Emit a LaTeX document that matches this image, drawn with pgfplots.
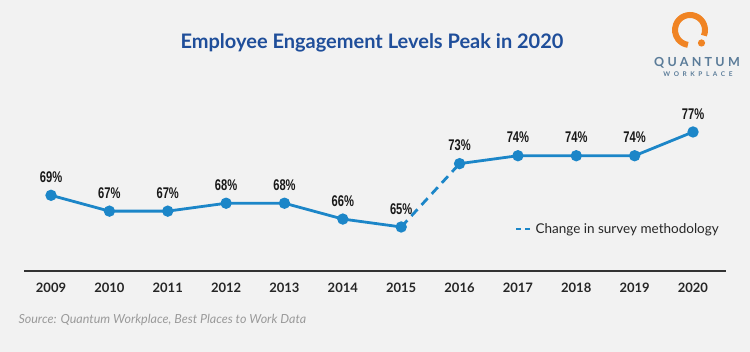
\documentclass[border=0pt]{standalone}
\usepackage{fontspec}
\setmainfont{Lato}
\newfontfamily\condfont[FakeStretch=0.72]{Liberation Sans Bold}
\newfontfamily\logofont[LetterSpace=26]{Lato Bold}
\newfontfamily\logosmall[LetterSpace=55]{Lato Bold}
\usepackage{pgfplots}
\pgfplotsset{compat=1.18}
\definecolor{bg}{HTML}{F2F2F2}
\definecolor{lineblue}{HTML}{1C86C8}
\definecolor{titleblue}{HTML}{1F4E9A}
\definecolor{logoorange}{HTML}{F08424}
\definecolor{logoslate}{HTML}{5B7C99}
\definecolor{srcgray}{HTML}{9A9A9A}
\begin{document}
\begin{tikzpicture}[x=1pt,y=1pt]
\fill[bg] (0,0) rectangle (750,352);
% title
\node[font=\fontsize{20}{23}\selectfont\bfseries, text=titleblue] at (372,309) {Employee Engagement Levels Peak in 2020};
% logo
\draw[logoorange, line width=6pt] (690,322) ++(-22:15) arc[start angle=-22, end angle=262, radius=15];
\fill[logoorange] (701.5,309) circle (3.6);
\node[font=\logofont\fontsize{12.5}{14}\selectfont, text=logoslate, inner sep=0pt] at (697,289.5) {QUANTUM};
\node[font=\logosmall\fontsize{6.5}{8}\selectfont, text=logoslate, inner sep=0pt] at (698,277.5) {WORKPLACE};
% source
\node[anchor=west, font=\fontsize{12.5}{14}\selectfont\itshape, text=srcgray] at (15,32) {Source: Quantum Workplace, Best Places to Work Data};
\begin{axis}[
  at={(24pt,81pt)}, anchor=south west,
  scale only axis, width=702pt, height=171pt,
  xmin=2008.537, xmax=2020.565,
  ymin=59.44, ymax=81.04,
  axis x line*=bottom, axis y line=none,
  x axis line style={draw=black!80, line width=1.3pt},
  xtick={2009,...,2020},
  major tick length=0pt,
  xticklabel style={/pgf/number format/1000 sep={}, /pgf/number format/assume math mode=true, font=\fontsize{13}{15}\selectfont\bfseries, text=black!85, yshift=-8pt},
  clip=false,
  ser/.style={color=lineblue, line width=2.8pt, mark=*, mark size=4.2pt, mark options={solid, fill=lineblue, draw=lineblue},
    nodes near coords={\pgfmathprintnumber[fixed,precision=0,assume math mode=true]{\pgfplotspointmeta}\%},
    every node near coord/.append style={font=\condfont\fontsize{15.5}{17}\selectfont, text=black!90, yshift=8pt}},
  legend style={at={(0.695,0.2456)}, anchor=west, draw=none, fill=none, font=\fontsize{13.5}{15}\selectfont, text=black!85, legend cell align=left},
  legend image code/.code={\draw[lineblue, line width=2.5pt, dash pattern=on 5pt off 4pt] (0pt,0pt) -- (16pt,0pt);},
]
\addplot[ser] coordinates {(2009,69) (2010,67) (2011,67) (2012,68) (2013,68) (2014,66) (2015,65)};
\addplot[color=lineblue, line width=2.8pt, dash pattern=on 9pt off 6pt] coordinates {(2015,65) (2016,73)};
\addplot[ser] coordinates {(2016,73) (2017,74) (2018,74) (2019,74) (2020,77)};
\legend{,Change in survey methodology,}
\end{axis}
\end{tikzpicture}
\end{document}
